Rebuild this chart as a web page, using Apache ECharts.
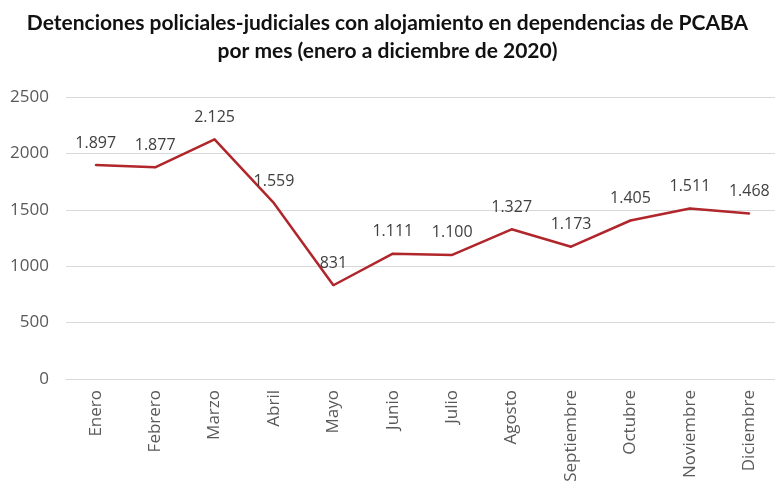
<!DOCTYPE html>
<html><head><meta charset="utf-8">
<script src="https://cdn.jsdelivr.net/npm/echarts@6/dist/echarts.min.js"></script>
<style>html,body{margin:0;padding:0;background:#fff}#c{width:775px;height:481px}</style>
</head><body><div id="c"></div>
<script>
const titleText = "Detenciones policiales-judiciales con alojamiento en dependencias de PCABA\npor mes (enero a diciembre de 2020)";
const categories = ["Enero","Febrero","Marzo","Abril","Mayo","Junio","Julio","Agosto","Septiembre","Octubre","Noviembre","Diciembre"];
const values = [1897,1877,2125,1559,831,1111,1100,1327,1173,1405,1511,1468];
const yTicks = {min:0, max:2500, interval:500};

const fmt = v => String(v).replace(/\B(?=(\d{3})+(?!\d))/g, ".");
const OS = "Open Sans";
const chart = echarts.init(document.getElementById('c'), null, {renderer:'canvas'});
chart.setOption({
  animation:false,
  title:{text:titleText, left:'center', top:4,
    textStyle:{fontFamily:'Lato', fontWeight:'bold', fontSize:21, color:'#111', lineHeight:28}},
  grid:{left:66, top:97, width:713, height:282, containLabel:false, outerBoundsMode:'none'},
  xAxis:{type:'category', data:categories, boundaryGap:true,
    axisLine:{lineStyle:{color:'#d9d9d9', width:1}}, axisTick:{show:false},
    axisLabel:{rotate:90, color:'#595959', fontFamily:OS, fontSize:17, margin:11}},
  yAxis:{type:'value', min:yTicks.min, max:yTicks.max, interval:yTicks.interval,
    axisLine:{show:false}, axisTick:{show:false},
    splitLine:{lineStyle:{color:'#d9d9d9', width:1}},
    axisLabel:{color:'#595959', fontFamily:OS, fontSize:17, margin:17, formatter:v=>String(v)}},
  series:[{type:'line', data:values, symbol:'circle', symbolSize:2, showSymbol:true,
    itemStyle:{color:'#B0262B'},
    lineStyle:{color:'#B0262B', width:2.5},
    labelLayout:{hideOverlap:false},
    label:{show:true, position:'top', distance:13, color:'#404040', fontFamily:OS, fontSize:16,
      formatter:p=>fmt(p.value)}}]
});
</script></body></html>
